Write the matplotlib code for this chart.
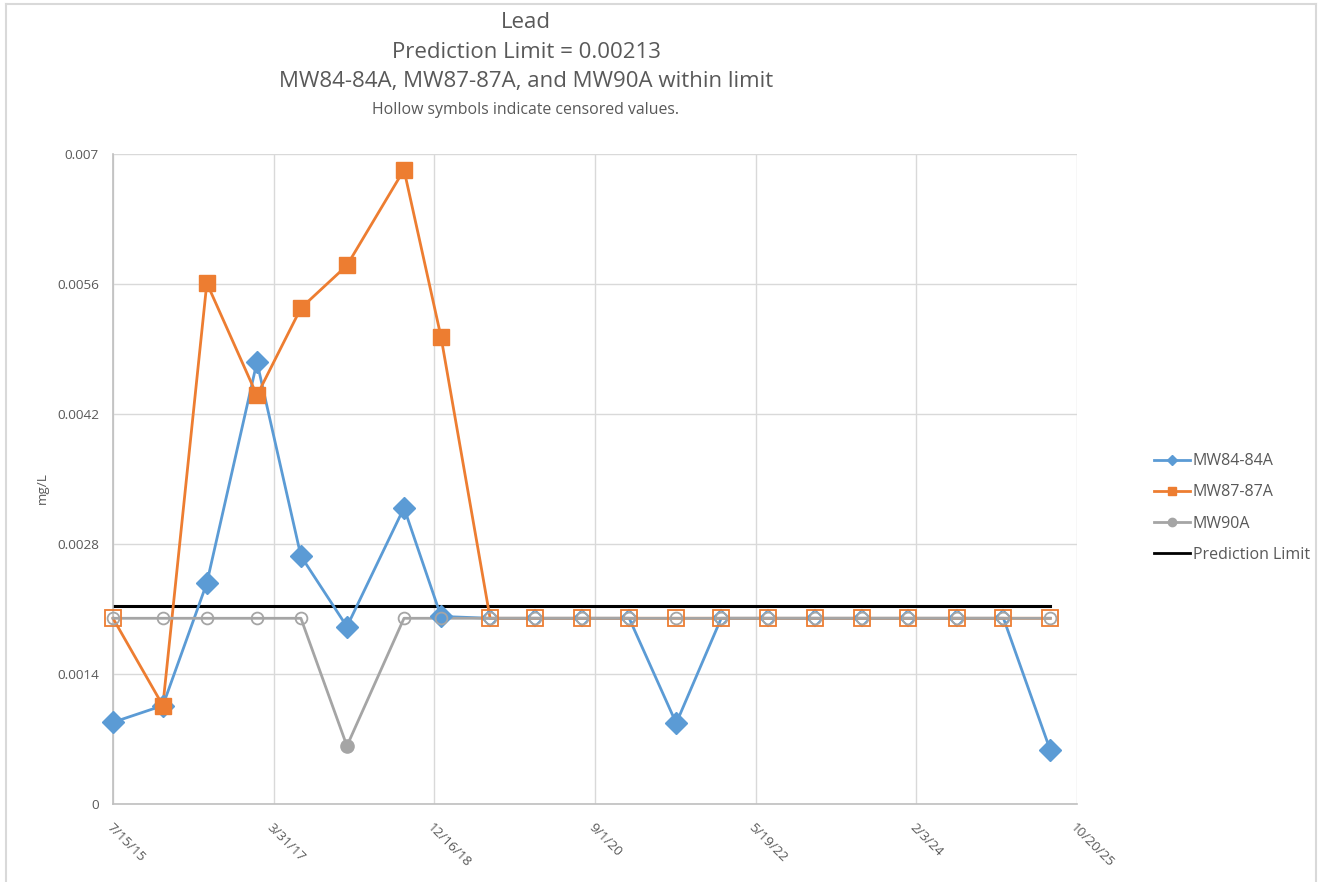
import numpy as np
import pandas as pd
import matplotlib
matplotlib.use('Agg')
import matplotlib.pyplot as plt
from matplotlib.lines import Line2D

plt.rcParams['font.family'] = ['Open Sans', 'DejaVu Sans']

dates = pd.to_datetime(['2015-07-15', '2016-01-25', '2016-07-14', '2017-01-25', '2017-07-15',
                        '2018-01-10', '2018-08-20', '2019-01-11', '2019-07-21', '2020-01-12',
                        '2020-07-13', '2021-01-12', '2021-07-14', '2022-01-05', '2022-07-07',
                        '2023-01-06', '2023-07-08', '2024-01-03', '2024-07-12', '2025-01-07',
                        '2025-07-08'])

mw84 = [0.00088, 0.00106, 0.00238, 0.00476, 0.00267, 0.00191, 0.00319, 0.00202, 0.002, 0.002,
        0.002, 0.002, 0.00087, 0.002, 0.002, 0.002, 0.002, 0.002, 0.002, 0.002, 0.00058]
mw84_cens = [0, 0, 0, 0, 0, 0, 0, 0, 1, 1, 1, 1, 0, 1, 1, 1, 1, 1, 1, 1, 0]

mw87 = [0.002, 0.00106, 0.00561, 0.0044, 0.00534, 0.0058, 0.00683, 0.00503, 0.002, 0.002,
        0.002, 0.002, 0.002, 0.002, 0.002, 0.002, 0.002, 0.002, 0.002, 0.002, 0.002]
mw87_cens = [1, 0, 0, 0, 0, 0, 0, 0, 1, 1, 1, 1, 1, 1, 1, 1, 1, 1, 1, 1, 1]

mw90 = [0.002, 0.002, 0.002, 0.002, 0.002, 0.000625, 0.002, 0.002, 0.002, 0.002,
        0.002, 0.002, 0.002, 0.002, 0.002, 0.002, 0.002, 0.002, 0.002, 0.002, 0.002]
mw90_cens = [1, 1, 1, 1, 1, 0, 1, 1, 1, 1, 1, 1, 1, 1, 1, 1, 1, 1, 1, 1, 1]

pred_limit = 0.00213
yticks = [0, 0.0014, 0.0028, 0.0042, 0.0056, 0.007]

blue = '#5B9BD5'
orange = '#ED7D31'
grey = '#A5A5A5'
txt = '#595959'

fig = plt.figure(figsize=(13.2, 8.82), dpi=100)

# chart area border
W, H = 1320, 882
for xs, ys in [([6, 1316], [4, 4]), ([6, 6], [4, 882]), ([1316, 1316], [4, 882])]:
    fig.add_artist(Line2D([x/W for x in xs], [1-y/H for y in ys], color='#D9D9D9', lw=1.5))

ax = fig.add_axes([113/W, 1-804/H, (1077-113)/W, (804-154)/H])

series = [(mw84, mw84_cens, blue, 'D', 11, 8),
          (mw87, mw87_cens, orange, 's', 12, 11),
          (mw90, mw90_cens, grey, 'o', 9.5, 8.5)]

for vals, cens, col, mk, ms_fill, ms_hol in series:
    vals = np.array(vals)
    cens = np.array(cens, dtype=bool)
    ax.plot(dates, vals, color=col, lw=2, zorder=3, clip_on=False)
    ax.plot(dates[~cens], vals[~cens], ls='none', marker=mk, ms=ms_fill,
            color=col, mec=col, zorder=4, clip_on=False)
    ax.plot(dates[cens], vals[cens], ls='none', marker=mk, ms=ms_hol,
            mfc='none', mec=col, mew=1.3, zorder=4, clip_on=False)

ax.plot([dates[0], dates[-1]], [pred_limit, pred_limit], color='black', lw=2.2, zorder=2)

# x axis: excel-style date axis, major unit 625 days
start = pd.Timestamp('2015-07-15')
xt = [start + pd.Timedelta(days=625*i) for i in range(7)]
ax.set_xlim(xt[0], xt[-1])
ax.set_xticks(xt)
ax.set_xticklabels([f'{d.month}/{d.day}/{d.strftime("%y")}' for d in xt],
                   rotation=-45, ha='left', va='top', rotation_mode='anchor',
                   fontsize=9.7, color=txt)
ax.set_ylim(0, 0.007)
ax.set_yticks(yticks)
ax.set_yticklabels(['0' if v == 0 else f'{v:g}' for v in yticks], fontsize=9.7, color=txt)
ax.tick_params(length=0, pad=10)
ax.tick_params(axis='x', pad=12)
ax.grid(True, color='#D9D9D9', lw=1)
ax.set_axisbelow(True)
for s in ['top', 'right']:
    ax.spines[s].set_visible(False)
for s in ['left', 'bottom']:
    ax.spines[s].set_color('#BFBFBF')
    ax.spines[s].set_linewidth(1.2)

fig.text(42/W, 1-488/H, 'mg/L', rotation=90, ha='center', va='center',
         fontsize=9.7, color=txt)

fig.text(526/W, 1-23/H, 'Lead', ha='center', va='center', fontsize=16, color=txt)
fig.text(526/W, 1-53/H, 'Prediction Limit = 0.00213', ha='center', va='center',
         fontsize=16, color=txt)
fig.text(526/W, 1-82/H, 'MW84-84A, MW87-87A, and MW90A within limit', ha='center',
         va='center', fontsize=16, color=txt)
fig.text(526/W, 1-110/H, 'Hollow symbols indicate censored values.', ha='center',
         va='center', fontsize=11.4, color=txt)

handles = [Line2D([], [], color=blue, lw=2, marker='D', ms=5),
           Line2D([], [], color=orange, lw=2, marker='s', ms=6),
           Line2D([], [], color=grey, lw=2, marker='o', ms=6),
           Line2D([], [], color='black', lw=2)]
labels = ['MW84-84A', 'MW87-87A', 'MW90A', 'Prediction Limit']
leg = fig.legend(handles, labels, loc='center left', bbox_to_anchor=(1140/W, 1-508/H),
                 frameon=False, fontsize=11.5, handlelength=2.2, handletextpad=0.2,
                 labelspacing=0.95, labelcolor=txt)

fig.savefig('out.png', dpi=100)
